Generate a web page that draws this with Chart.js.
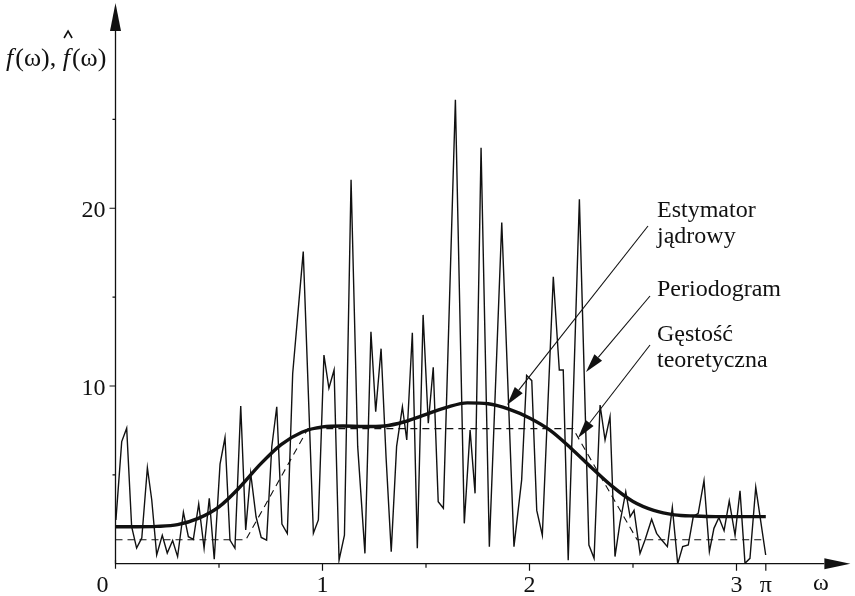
<!DOCTYPE html>
<html>
<head>
<meta charset="utf-8">
<script src="https://cdn.jsdelivr.net/npm/chart.js@4/dist/chart.umd.min.js"></script>
<style>
  html, body { margin: 0; padding: 0; background: #fff; }
  #wrap { width: 855px; height: 596px; }
</style>
</head>
<body>
<div id="wrap"><canvas id="c" width="855" height="596"></canvas></div>
<script>
// Periodogram: frequency (rad) and ordinate
const periodogramOmega = [
  0.002, 0.030, 0.054, 0.078, 0.102, 0.127, 0.154, 0.175, 0.199, 0.226,
  0.250, 0.276, 0.300, 0.328, 0.352, 0.376, 0.402, 0.428, 0.453, 0.477,
  0.505, 0.529, 0.553, 0.577, 0.605, 0.629, 0.653, 0.679, 0.704, 0.730,
  0.755, 0.779, 0.804, 0.830, 0.856, 0.907, 0.956, 0.980, 1.007, 1.031,
  1.056, 1.080, 1.106, 1.138, 1.170, 1.205, 1.234, 1.257, 1.283, 1.307,
  1.332, 1.358, 1.386, 1.407, 1.434, 1.458, 1.486, 1.511, 1.535, 1.559,
  1.584, 1.642, 1.685, 1.713, 1.737, 1.766, 1.806, 1.866, 1.925, 1.962,
  1.986, 2.011, 2.035, 2.062, 2.115, 2.144, 2.163, 2.187, 2.241, 2.287,
  2.312, 2.341, 2.365, 2.389, 2.413, 2.437, 2.465, 2.486, 2.505, 2.534,
  2.558, 2.590, 2.614, 2.639, 2.666, 2.690, 2.716, 2.740, 2.767, 2.791,
  2.815, 2.843, 2.869, 2.891, 2.915, 2.940, 2.965, 2.993, 3.017, 3.041,
  3.065, 3.093, 3.141
];
const periodogramValues = [
  2.46, 6.87, 7.62, 2.08, 0.88, 1.45, 5.4, 3.6, 0.49, 1.6,
  0.6, 1.3, 0.4, 2.9, 1.52, 1.37, 3.36, 0.87, 3.68, 0.25,
  5.6, 7.1, 1.33, 0.87, 8.87, 1.9, 5.09, 2.64, 1.48, 1.33,
  6.58, 8.83, 2.23, 1.7, 10.7, 17.56, 1.71, 2.46, 11.74, 9.87,
  10.9, 0.2, 1.6, 21.6, 6.6, 0.58, 13.05, 8.55, 12.1, 6.0,
  0.68, 6.6, 8.83, 6.96, 13.0, 0.87, 14.0, 7.9, 11.05, 3.49,
  3.12, 26.1, 2.27, 7.52, 3.96, 23.4, 0.96, 19.2, 0.96, 4.7,
  10.6, 10.3, 3.0, 1.6, 16.15, 10.9, 10.9, 0.2, 20.5, 1.05,
  0.3, 8.93, 6.96, 8.27, 0.4, 2.3, 4.05, 2.64, 3.0, 0.58,
  1.33, 2.5, 1.71, 1.33, 0.96, 3.17, 0.0, 0.96, 1.05, 2.64,
  2.83, 4.67, 0.68, 1.99, 2.6, 1.86, 3.53, 1.6, 4.1, 0.02,
  0.3, 4.3, 0.49
];

// Kernel estimate of the spectral density
const kernelOmega = [
  0, 0.1, 0.2, 0.3, 0.4, 0.5, 0.6, 0.7, 0.8, 0.9, 1.0, 1.1, 1.2, 1.3, 1.4, 1.5,
  1.6, 1.7, 1.8, 1.9, 2.0, 2.1, 2.2, 2.3, 2.4, 2.5, 2.6, 2.7, 2.8, 2.9, 3.0, 3.1, 3.1416
];
const kernelValues = [
  2.08, 2.08, 2.1, 2.2, 2.55, 3.2, 4.3, 5.6, 6.7, 7.4, 7.7, 7.75, 7.72, 7.75, 8.0, 8.4,
  8.8, 9.05, 9.0, 8.7, 8.2, 7.5, 6.5, 5.4, 4.35, 3.5, 3.0, 2.75, 2.68, 2.65, 2.65, 2.65, 2.65
];

// Theoretical spectral density
const densityOmega = [0, 0.63, 0.93, 2.21, 2.52, 3.12];
const densityValues = [1.35, 1.35, 7.6, 7.6, 1.35, 1.35];

// Axis ticks
const xMajorTicks = [1, 2, 3, Math.PI];
const xMajorLabels = ['1', '2', '3', 'π'];
const xMinorTicks = [0.5, 1.5, 2.5];
const yMajorTicks = [10, 20];
const yMajorLabels = ['10', '20'];
const yMinorTicks = [5, 15, 25];

// Annotation texts
const labelKernel = ['Estymator', 'jądrowy'];
const labelPeriodogram = ['Periodogram'];
const labelDensity = ['Gęstość', 'teoretyczna'];

const SERIF = '"Liberation Serif", "Times New Roman", "DejaVu Serif", serif';
const INK = '#111';

function pts(xs, ys) { return xs.map((x, i) => ({ x: x, y: ys[i] })); }

function arrow(ctx, x1, y1, x2, y2, len, half) {
  const a = Math.atan2(y2 - y1, x2 - x1);
  const bx = x2 - len * Math.cos(a), by = y2 - len * Math.sin(a);
  ctx.beginPath();
  ctx.moveTo(x1, y1);
  ctx.lineTo(bx, by);
  ctx.stroke();
  ctx.beginPath();
  ctx.moveTo(x2, y2);
  ctx.lineTo(bx + half * Math.sin(a), by - half * Math.cos(a));
  ctx.lineTo(bx - half * Math.sin(a), by + half * Math.cos(a));
  ctx.closePath();
  ctx.fill();
}

const axesPlugin = {
  id: 'axesPlugin',
  afterDraw(chart) {
    const ctx = chart.ctx;
    const xs = chart.scales.x, ys = chart.scales.y;
    const x0 = xs.getPixelForValue(0), y0 = ys.getPixelForValue(0);
    const area = chart.chartArea;
    ctx.save();
    ctx.strokeStyle = INK;
    ctx.fillStyle = INK;
    ctx.lineWidth = 1.3;

    // axis lines with arrowheads
    arrow(ctx, x0, y0, x0, area.top, 28, 5.5);
    arrow(ctx, x0, y0, area.right, y0, 26, 5.5);

    // x ticks
    ctx.lineWidth = 1.2;
    ctx.beginPath();
    xMajorTicks.forEach(v => {
      const p = xs.getPixelForValue(v);
      ctx.moveTo(p, y0); ctx.lineTo(p, y0 + 7);
    });
    xMinorTicks.forEach(v => {
      const p = xs.getPixelForValue(v);
      ctx.moveTo(p, y0); ctx.lineTo(p, y0 + 4);
    });
    ctx.moveTo(x0, y0 - 4); ctx.lineTo(x0, y0 + 5);
    // y ticks
    yMajorTicks.forEach(v => {
      const p = ys.getPixelForValue(v);
      ctx.moveTo(x0, p); ctx.lineTo(x0 - 6, p);
    });
    yMinorTicks.forEach(v => {
      const p = ys.getPixelForValue(v);
      ctx.moveTo(x0, p); ctx.lineTo(x0 - 3, p);
    });
    ctx.stroke();

    // tick labels
    ctx.font = '24px ' + SERIF;
    ctx.textBaseline = 'alphabetic';
    ctx.textAlign = 'center';
    xMajorTicks.forEach((v, i) => {
      ctx.fillText(xMajorLabels[i], xs.getPixelForValue(v), y0 + 28);
    });
    ctx.fillText('0', x0 - 13, y0 + 28);
    ctx.fillText('ω', 821, y0 + 26);
    ctx.textAlign = 'right';
    yMajorTicks.forEach((v, i) => {
      ctx.fillText(yMajorLabels[i], x0 - 10, ys.getPixelForValue(v) + 9);
    });

    // y axis title: f(ω), f̂(ω)
    ctx.textAlign = 'left';
    let tx = 6;
    const tb = 66;
    ctx.font = 'italic 26px ' + SERIF;
    ctx.fillText('f', tx, tb); tx += ctx.measureText('f').width + 2;
    ctx.font = '26px ' + SERIF;
    ctx.fillText('(ω), ', tx, tb); tx += ctx.measureText('(ω), ').width;
    ctx.font = 'italic 26px ' + SERIF;
    const fw = ctx.measureText('f').width;
    ctx.fillText('f', tx, tb);
    // circumflex over the estimate
    const hx = tx + fw * 0.75;
    ctx.lineWidth = 1.6;
    ctx.beginPath();
    ctx.moveTo(hx - 4, tb - 28);
    ctx.lineTo(hx, tb - 35);
    ctx.lineTo(hx + 4, tb - 28);
    ctx.stroke();
    tx += fw + 2;
    ctx.font = '26px ' + SERIF;
    ctx.fillText('(ω)', tx, tb);

    // annotations
    ctx.font = '24px ' + SERIF;
    ctx.fillText(labelKernel[0], 657, 217);
    ctx.fillText(labelKernel[1], 657, 243);
    ctx.fillText(labelPeriodogram[0], 657, 296);
    ctx.fillText(labelDensity[0], 657, 341);
    ctx.fillText(labelDensity[1], 657, 367);

    ctx.lineWidth = 1.1;
    arrow(ctx, 648, 226, 507, 405, 19, 5);
    arrow(ctx, 650, 296, 586, 372, 19, 5);
    arrow(ctx, 650, 345, 578, 438, 19, 5);
    ctx.restore();
  }
};

new Chart(document.getElementById('c'), {
  type: 'line',
  data: {
    datasets: [
      {
        label: 'Periodogram',
        data: pts(periodogramOmega, periodogramValues),
        borderColor: INK, borderWidth: 1.4, pointRadius: 0, tension: 0, fill: false
      },
      {
        label: 'Gęstość teoretyczna',
        data: pts(densityOmega, densityValues),
        borderColor: INK, borderWidth: 1.1, borderDash: [7, 5], pointRadius: 0, tension: 0, fill: false
      },
      {
        label: 'Estymator jądrowy',
        data: pts(kernelOmega, kernelValues),
        borderColor: INK, borderWidth: 3.4, pointRadius: 0,
        cubicInterpolationMode: 'monotone', fill: false
      }
    ]
  },
  options: {
    responsive: false,
    animation: false,
    devicePixelRatio: 1,
    layout: { padding: { left: 115.5, right: 4.65, top: 3, bottom: 32.3 } },
    plugins: { legend: { display: false }, tooltip: { enabled: false } },
    scales: {
      x: { type: 'linear', min: 0, max: 3.55, display: false },
      y: { type: 'linear', min: 0, max: 31.55, display: false }
    },
    elements: { line: { borderCapStyle: 'butt', borderJoinStyle: 'miter' } }
  },
  plugins: [axesPlugin]
});
</script>
</body>
</html>
